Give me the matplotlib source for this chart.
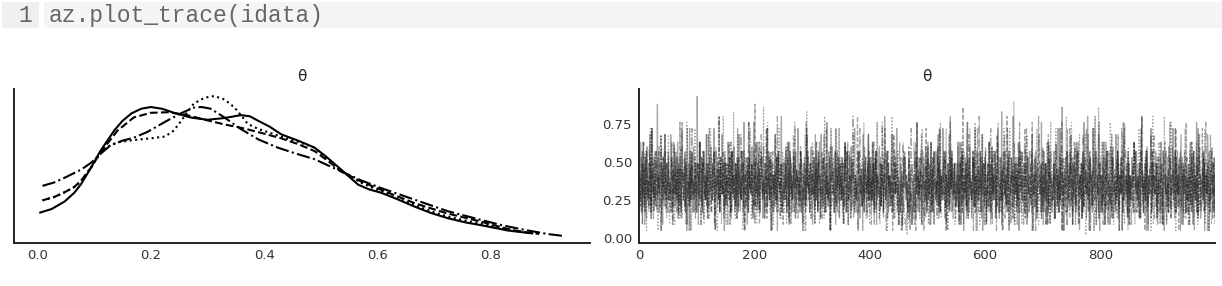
import matplotlib.pyplot as plt
from matplotlib.patches import Rectangle
import numpy as np

# KDE of theta for each chain
theta_0 = [0.005, 0.025, 0.048, 0.065, 0.077, 0.095, 0.111, 0.136, 0.150, 0.166, 0.183, 0.200,
           0.220, 0.241, 0.270, 0.300, 0.330, 0.359, 0.375, 0.390, 0.410, 0.430, 0.460, 0.489,
           0.510, 0.536, 0.566, 0.585, 0.607, 0.635, 0.666, 0.695, 0.725, 0.755, 0.784, 0.830, 0.873]
dens_0 = [0.44, 0.50, 0.63, 0.78, 0.93, 1.22, 1.50, 1.86, 2.02, 2.15, 2.23, 2.26,
          2.23, 2.16, 2.08, 2.04, 2.07, 2.12, 2.10, 2.02, 1.92, 1.79, 1.68, 1.56,
          1.40, 1.18, 0.92, 0.84, 0.78, 0.67, 0.54, 0.43, 0.34, 0.27, 0.22, 0.13, 0.08]

theta_1 = [0.009, 0.030, 0.048, 0.065, 0.077, 0.095, 0.111, 0.141, 0.170, 0.200, 0.230, 0.260,
           0.300, 0.330, 0.365, 0.400, 0.430, 0.460, 0.489, 0.510, 0.536, 0.570, 0.607, 0.635,
           0.666, 0.695, 0.725, 0.755, 0.784, 0.810, 0.840, 0.885]
dens_1 = [0.65, 0.71, 0.79, 0.88, 0.99, 1.22, 1.47, 1.85, 2.08, 2.16, 2.17, 2.13,
          2.03, 1.96, 1.89, 1.80, 1.72, 1.62, 1.50, 1.35, 1.15, 0.98, 0.83, 0.72,
          0.60, 0.51, 0.42, 0.35, 0.28, 0.21, 0.13, 0.07]

theta_2 = [0.009, 0.030, 0.048, 0.077, 0.095, 0.111, 0.129, 0.150, 0.170, 0.194, 0.210, 0.230,
           0.255, 0.276, 0.290, 0.306, 0.330, 0.359, 0.390, 0.424, 0.455, 0.489, 0.536, 0.570,
           0.607, 0.666, 0.725, 0.784, 0.820, 0.860, 0.900, 0.929]
dens_2 = [0.90, 0.96, 1.04, 1.18, 1.30, 1.45, 1.60, 1.68, 1.73, 1.83, 1.92, 2.03,
          2.16, 2.25, 2.26, 2.23, 2.08, 1.88, 1.70, 1.56, 1.46, 1.36, 1.15, 1.00,
          0.86, 0.66, 0.46, 0.31, 0.22, 0.14, 0.07, 0.035]

theta_3 = [0.009, 0.030, 0.048, 0.065, 0.077, 0.095, 0.111, 0.125, 0.141, 0.170, 0.200, 0.225,
           0.240, 0.253, 0.265, 0.276, 0.295, 0.312, 0.330, 0.347, 0.360, 0.371, 0.390, 0.406,
           0.430, 0.460, 0.489, 0.510, 0.536, 0.570, 0.607, 0.635, 0.666, 0.695, 0.725, 0.755,
           0.784, 0.830, 0.870]
dens_3 = [0.65, 0.71, 0.79, 0.88, 0.98, 1.22, 1.47, 1.58, 1.65, 1.69, 1.72, 1.75,
          1.85, 2.01, 2.18, 2.32, 2.42, 2.45, 2.39, 2.26, 2.11, 1.97, 1.88, 1.83,
          1.75, 1.66, 1.56, 1.38, 1.15, 0.96, 0.80, 0.68, 0.57, 0.46, 0.37, 0.30,
          0.25, 0.15, 0.09]

# trace samples, one letter per draw, value of each letter in letter_values
letter_values = [0.02, 0.05, 0.09, 0.13, 0.17, 0.21, 0.25, 0.29, 0.33, 0.37, 0.41, 0.45, 0.49,
                 0.53, 0.57, 0.60, 0.63, 0.68, 0.72, 0.76, 0.80, 0.83, 0.86, 0.88, 0.90, 0.93]

chain_0 = """
jmgqkeohil fnjdpkhmgr iekslgnjfh mkxgoeijlp hcknfrjgmi
kogihrmejl gpkfinhqdm jlhesoikgn fmjcshkbio gnkejpihmf
ezlkhgqjnf imdokgjrhe lkfnipgmjh sckhomfjli egnkrhjmbf
hmjfqkignl dokhjpemgi nkhfrjlgmo ietkhnfjcm lgokihpejt
jfmhkqgoil ekhnjdpgmi lhsfkojgnb mikhejrgln fkoijhmueg
mkhgjpfnil dqkhmegjoi nhfkljsgme iokhcmjnfl gkrjhiemop
hjlgnekqim fokhjdrgln mjeikhtfog nlbjkpmhie gskfojlnhi
kgnhjmfqle iokcgjnhpm fljkshiegn omjdkhlfgr iemnkjhorg
nhjfkqgmei lockhjnpgi fmkhejulgo ndjmihkfrg ejlokhnsmi
cgfhekbjil nmhgkfejod hlgicjfkem qhtkgnelji cfkhmjgpie
lpgjhmqefk nicgkolhjr fmeikhgsjn ldochkmfjg uineklgmhj
fkhqjelmgc okibhjnfmt elgkpjhdin mhfsekojgl ihkenrbjmg
njgehlkqfm cipjgkhome lfsjndhkgv ejmkhoglfs khbiejnmfu
hglmjekfnb qiokhgjmle pfkcnjhigm lerhjkfnog dmikjhletf
keoihjmgcq flnkhejgim odkjlhfses gmihwkjbfl nhoegjkmir
gjcnhmkfeq iolhkgjmdn fetkjhliug mbnjkhefsl igkojnhreb
mhkejqglcn fiokjhgcpe lnkdhjfrgi omejkhnlbf tgikjhmeon
ckfhjnlgeq moikhjfgld npukhejmig lofbkjhnse gmikhjoldf
jnhgekqmfc lbkhojgnep mifkhjslgd oenkjhmfgl rickhjonme
hkegjmqfnl icokhgjtef slnkdjhiog mefkjhrnlb gikojhmenf
"""

chain_1 = """
ilfhnkcqgj mehoklgfin jdskhmegol fhknipjgbe mlhgorkfji
gnkhejmqcf lihokgjnem ftkdhljgio nemkhgjfsb liokhjgnme
fjmckhqlgn eiokhjgmfd rnlkhejgmi ofbkhjnlgu emikhjogfn
kgmhcjqlfe noikhgjmfl dsenkhjgoi mlfkbhjnge toikhjmlfd
hxkfjemgqc nlokhgjief msdkhnjgol ifekhjmrgn blokhjfmei
cjhmgoekiq flcnjhkgre mioghkdjlf pnehigkmjb tflohkejmg
kcihnfrjgl emkqhdiogj fnlkeshmgi jbpkfgilhn ocmjekgsfh
mgjeickplh fnqhgojkei lmdhjfkgnu ieohklfjbm gpnhjekirf
ehnkgqjmci loftkhjgen fmikdhpsgj lnoeikhgmf bjrkhnlgei
hjqemgkcfo ilnkhjgepm bdhcfegdch dftkilhnjo eckgbfhdse
fqkhjmcgle ionkhgjfpm dselikhjng omfkbjhlre gniokhjmfd
hjgmekqcnl fiwkhgjmep tdlnkhjgio fmekhbjsnl giokhjmefc
locgkmfhqj einhkgjlod frmkehjngi lbokhjfmug eniohkjldf
gqjhkmclfe noihkjgfms delnkhjoig fmtkbhjlne gioukhjmdf
pciekmgjhc rfljonhegk imdqjfhlek gsjibmnfhk ejlsgikdof
hkmegjpcif lnqchkjgme oifhlkdjgr mejnkifshb glocjihetn
iejkfgnmch qlhjeokgif dmpjhlkgen irfbjmhkoe lgsjfikdnh
mckgjilfeq nhjoegkimd fluhjekbgn ipmfhjlkde ogjrkhifmc
fjhlnkegic omqjhkfgle indhjpmkfg eslhjkbnio gfmjelhkdt
kghmicljeq fnohkgjemi dlpfhkjsgn emihjlbkfo grnjiemhkc
"""

chain_2 = """
ghjkeimfql cnhokgjepi mfskldhjgn oeikhjmfrb lgnkhjoeim
elihjgknmc fqohjeklgi dnmfhtjklg eoibhjmkfl gnsjhiekdm
hjmkfqgicl eonjhgkfim dlshjkegin omfbhjlkgu einjhmkdfo
gfkjihmncl qeojhkgfmi dlnhjkergi mofbhjlkgn etijhmkdfo
jcmqhkfgel inrogjhkdm lefsikgnjh bmoikflhge ujnkhdmigf
hgnkimjefq cloikghjnm tdfelkhijg onmfbhkgje lsinkgjmhd
fkohjclgqi emnjkhfgdi orlemkhjgf inbsjmkheg lofkinhdjm
ikgnhcmjql efoighkdnj mulfekhgji bnosmhkfgj leinkhdmgo
gmlckhjqfi neogkjhdml fitkenjhgb molikfhjeg rndkmhjilf
kcjhnfgmqe loikgjdhmn efskljhgoi bnmefkhjgl riokndjhmf
hngkcjmqfl eiokhgjdnm lfsekhigjo mnbkfhjleg tionkdjhmf
mjfkhcgnql eoigkhjmdf nlrekhjgio bmnfkjhlge uiokdnjhmf
ipgcjmhekn sfdlhoigjk bmqkfehjnc lgiprdkhem jofhgcnlki
kcmhnfjgql tigeokhcfm jnsldhkegi ombfjhnkbl iegprkjhmf
fojgkmclhi eqnckjfhgm idlophgkje nfmtjbiklh gecojmfskn
mhckgqjlfn oiejbkhmdg rlfnikshje gmobkjlfhn iupegkhdmj
jkfhmcgqnl eiocjgkhfm rdnlkheijg omfbkjhsle gitnokhjdm
higkcfmjqn loejgkhdmf nsilkehjgo bmfkjhlnre goikdhjmfn
ekjhqcmgfo lnikgchjem ptfdiklgnh sjemofkhib glnjcmhkef
njfckhgmqe iolbhkjgnd fmrkjeilhg obntkfmjih elgkpdjnhf
"""

chain_3 = """
hkfgjmclqe inobkgjhfm sdlekhjngi omfbkhjlre gnikohjmdf
lrgcjhenkf qicmhogjle kfnpidhgjm ecltkhjfoi mbngjekslh
gjemkqhcfi nlocjkgrhe midfsjnklg hoepkjbmif lgncjhukem
fckhmjgnqe ilogvkhdjm fnrelkhgji bmcojkfhlg eniskdmjhf
kinhcgjmfq elojkhwgdm niftlkhejg obmcjhkfln gieskjdmho
mhejkgcqnl fiokcjhgme nsdlikhfjg omeklhbfrn gvjikhmedl
hqkjfcmgln eiockhjgmf nduliekhgj omfbkjhnle gispkhjmdn
jgmkchfqln oeicjkhgdm lnrfeikhjg bmofkjlnhe tgikdjhmfn
ckhjgmfqen loikjhgdcm fnsleikjhg obmfkjhnlu eigkdjhmfo
edcgfbdceg fcdbeagdcf hgkjmdfqln eoikhgjdmn fslekhjgio
kgcmhejqfn lcoijhkgpe mfntdilkhj gersjmbkfo ilhnkgjmcd
fhlpjckgmi qencohjkfl gdmiskhejn loftjgkbmh icnejkrlgf
mjchkfnqgl eipcojkhdm gfltnkiejh bmosjgkhfl nicshjkemd
yscjkhmgqf elnicojkhg dmfrlneikj hgobmjkfln seichgkjdm
hjkfmcgqln eioctjkhgm dfnslekijh gombkfjhln iuechkgjmf
tgcmjhfqkn oecirjkhgd mfnlraikjh gobmkfjhln siecgkhwmd
hnlqeikjfg jmokcgftsn eoicjkhgmd odmfkjhlbe ricgkhjmbp
ekijhgflnq ckjhgmfslo mdofkjhlne oeicjkhgbm iucgkhjmdf
lqcfhkjmcg nuoeicjkhg fnlteikjhg obmkfjhlne fhkjmdgsie
jhgmcofkln kjdhmgfqec reikjhgfln iscgkhjmbf oeicjkhgdm
"""

chains = [chain_0, chain_1, chain_2, chain_3]
kde_x = [theta_0, theta_1, theta_2, theta_3]
kde_y = [dens_0, dens_1, dens_2, dens_3]
styles = ["-", "--", "-.", ":"]

x_ticks = [0.0, 0.2, 0.4, 0.6, 0.8]
draw_ticks = [0, 200, 400, 600, 800]
value_ticks = [0.0, 0.25, 0.5, 0.75]
code_line = "az.plot_trace(idata)"


def decode(s):
    s = "".join(s.split())
    return np.array([letter_values[ord(c) - ord("a")] for c in s])


fig = plt.figure(figsize=(12.22, 2.86), dpi=100)

# notebook code cell above the plot
fig.add_artist(Rectangle((0.002, 0.902), 0.030, 0.091, transform=fig.transFigure,
                         facecolor="#efefef", edgecolor="none"))
fig.add_artist(Rectangle((0.036, 0.902), 0.964, 0.091, transform=fig.transFigure,
                         facecolor="#f5f5f5", edgecolor="none"))
fig.text(0.026, 0.947, "1", family="Liberation Mono", fontsize=16.6, color="#666",
         ha="right", va="center")
fig.text(0.040, 0.947, code_line, family="Liberation Mono", fontsize=16.6, color="#666",
         ha="left", va="center")

ax1 = fig.add_axes([0.0115, 0.1503, 0.4714, 0.5385])
ax2 = fig.add_axes([0.5229, 0.1503, 0.4714, 0.5385])

for tx, ty, ls in zip(kde_x, kde_y, styles):
    ax1.plot(tx, ty, color="black", lw=1.5, ls=ls)

for s, ls in zip(chains, styles):
    vals = decode(s)
    ax2.plot(np.arange(len(vals)), vals, color="black", alpha=0.35, lw=0.9, ls=ls)

ax1.set_yticks([])
ax1.set_xticks(x_ticks)
ax1.set_xticklabels([f"{t:.1f}" for t in x_ticks])

ax2.set_xlim(0, 999)
ax2.set_ylim(-0.033, 0.98)
ax2.set_xticks(draw_ticks)
ax2.set_yticks(value_ticks)
ax2.set_yticklabels([f"{t:.2f}" for t in value_ticks])

for ax in (ax1, ax2):
    ax.set_title("θ", fontsize=11, color="#222", pad=6)
    ax.spines["top"].set_visible(False)
    ax.spines["right"].set_visible(False)
    for side in ("left", "bottom"):
        ax.spines[side].set_linewidth(1.4)
        ax.spines[side].set_color("#222")
    ax.tick_params(length=0, labelsize=9.5, labelcolor="#333")
    ax.tick_params(axis="x", pad=4)
    ax.tick_params(axis="y", pad=5)

fig.savefig("out.png", dpi=100)
